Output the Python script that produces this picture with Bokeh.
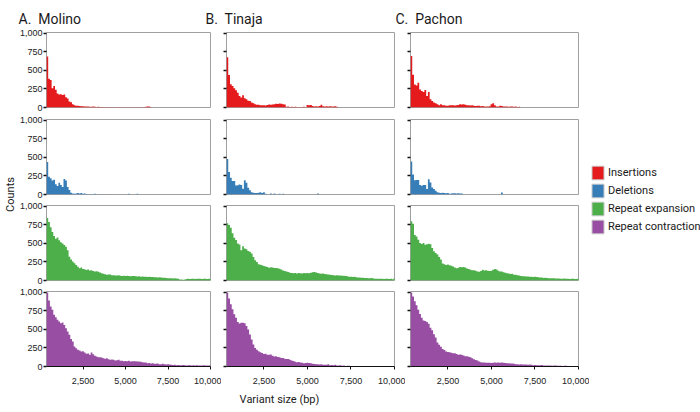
import math
from bokeh.plotting import figure
from bokeh.models import (Range1d, FixedTicker, NumeralTickFormatter, ColumnDataSource,
                          Legend, LegendItem, Label)
from bokeh.layouts import row, column
from bokeh.embed import file_html
from bokeh.resources import INLINE

# ---------------- data ----------------
BIN_START = 350
BIN_WIDTH = 100
N_BINS = 97
X_START, X_END = 350, 10000
Y_END = 1013

populations = ["Molino", "Tinaja", "Pachon"]
panel_titles = ["A.\u00a0 Molino", "B.\u00a0 Tinaja", "C.\u00a0 Pachon"]
variant_types = ["Insertions", "Deletions", "Repeat expansion", "Repeat contraction"]
type_colors = ["#E41A1C", "#377EB8", "#4DAF4A", "#984EA3"]
x_ticks = [2500, 5000, 7500, 10000]
y_ticks = [0, 250, 500, 750, 1000]

molino_insertions = [
    690, 390, 370, 260, 290, 240, 190, 175, 180, 170,
    175, 140, 120, 80, 70, 45, 30, 25, 22, 20,
    18, 16, 15, 12, 12, 10, 10, 12, 10, 8,
    10, 8, 6, 8, 5, 6, 4, 6, 5, 3,
    5, 4, 6, 3, 5, 4, 3, 5, 4, 3,
    4, 3, 3, 4, 5, 3, 4, 6, 10, 15,
    12, 4, 0, 0, 0, 0, 0, 0, 0, 0,
    0, 0, 0, 0, 0, 0, 0, 0, 0, 0,
    0, 0, 0, 0, 0, 0, 0, 0, 0, 0,
    0, 0, 0, 0, 0, 0, 0]
molino_deletions = [
    440, 240, 220, 190, 200, 140, 115, 160, 130, 100,
    210, 190, 100, 60, 25, 15, 10, 15, 20, 15,
    20, 10, 15, 8, 5, 3, 4, 2, 10, 3,
    2, 0, 2, 0, 3, 0, 0, 2, 0, 0,
    0, 0, 0, 0, 0, 0, 0, 0, 10, 0,
    0, 0, 0, 10, 0, 0, 0, 0, 0, 0,
    0, 0, 0, 0, 0, 0, 0, 0, 0, 0,
    0, 0, 0, 0, 0, 0, 0, 0, 0, 0,
    0, 0, 0, 0, 0, 0, 0, 0, 0, 0,
    0, 0, 0, 0, 0, 0, 0]
molino_rep_exp = [
    843, 790, 720, 655, 600, 565, 580, 545, 515, 500,
    478, 455, 410, 320, 285, 255, 232, 210, 187, 165,
    175, 156, 152, 143, 150, 134, 140, 130, 120, 125,
    118, 107, 98, 90, 85, 76, 82, 80, 72, 70,
    68, 66, 70, 64, 62, 65, 60, 63, 62, 58,
    60, 62, 58, 55, 57, 52, 55, 50, 52, 48,
    50, 48, 46, 45, 44, 42, 45, 40, 38, 36,
    35, 32, 30, 30, 28, 30, 26, 25, 15, 12,
    10, 14, 20, 22, 20, 24, 22, 20, 22, 24,
    22, 20, 22, 24, 20, 22, 20]
molino_rep_con = [
    1000, 890, 810, 765, 700, 665, 630, 608, 585, 595,
    560, 518, 472, 428, 370, 338, 270, 248, 225, 216,
    202, 205, 190, 171, 175, 158, 190, 166, 144, 135,
    126, 124, 121, 112, 103, 110, 99, 90, 95, 90,
    81, 86, 90, 76, 78, 72, 74, 72, 76, 67,
    70, 72, 70, 66, 68, 63, 58, 54, 55, 45,
    46, 42, 45, 36, 38, 40, 31, 32, 36, 30,
    27, 30, 28, 22, 20, 22, 18, 20, 16, 18,
    20, 17, 15, 18, 16, 14, 17, 15, 16, 14,
    15, 13, 16, 14, 12, 15, 13]

tinaja_insertions = [
    680, 440, 314, 290, 260, 233, 200, 157, 134, 165,
    125, 112, 90, 88, 67, 58, 45, 36, 36, 31,
    30, 30, 28, 35, 40, 38, 42, 45, 50, 48,
    54, 50, 45, 40, 10, 12, 8, 10, 6, 10,
    8, 5, 8, 6, 10, 4, 35, 30, 35, 20,
    15, 18, 15, 20, 36, 18, 15, 18, 12, 18,
    15, 12, 16, 10, 0, 0, 0, 0, 0, 0,
    0, 0, 0, 0, 0, 0, 0, 0, 0, 0,
    0, 0, 0, 0, 0, 0, 0, 0, 0, 0,
    0, 0, 0, 0, 0, 0, 0]
tinaja_deletions = [
    480, 305, 227, 182, 182, 123, 125, 136, 127, 77,
    191, 160, 91, 59, 32, 23, 20, 20, 22, 32,
    20, 30, 10, 0, 0, 14, 0, 12, 5, 0,
    10, 0, 10, 0, 0, 0, 0, 0, 0, 0,
    0, 0, 0, 0, 0, 0, 0, 0, 0, 0,
    0, 0, 14, 0, 0, 0, 0, 0, 0, 0,
    0, 0, 0, 0, 0, 0, 0, 0, 0, 0,
    0, 0, 0, 0, 0, 0, 0, 0, 0, 0,
    0, 0, 0, 0, 0, 0, 0, 0, 0, 0,
    0, 0, 0, 0, 0, 0, 0]
tinaja_rep_exp = [
    773, 750, 714, 637, 578, 546, 500, 487, 410, 464,
    432, 423, 400, 387, 364, 318, 273, 250, 218, 214,
    205, 196, 190, 182, 173, 178, 175, 168, 170, 165,
    160, 150, 136, 127, 123, 114, 105, 100, 98, 100,
    96, 102, 98, 95, 100, 97, 102, 98, 105, 110,
    114, 108, 100, 95, 91, 93, 88, 85, 80, 77,
    75, 72, 68, 70, 66, 68, 64, 65, 60, 58,
    52, 50, 48, 50, 45, 42, 40, 38, 36, 34,
    33, 32, 30, 33, 26, 24, 23, 25, 22, 23,
    20, 24, 22, 20, 23, 18, 32]
tinaja_rep_con = [
    1000, 920, 842, 773, 705, 660, 600, 582, 590, 592,
    585, 546, 500, 432, 364, 296, 250, 227, 205, 191,
    182, 168, 172, 160, 158, 162, 146, 136, 138, 127,
    125, 114, 116, 105, 100, 102, 91, 82, 73, 64,
    59, 60, 55, 52, 45, 46, 50, 48, 44, 36,
    34, 32, 30, 27, 30, 25, 23, 22, 32, 18,
    20, 18, 22, 14, 12, 16, 10, 14, 8, 10,
    9, 0, 0, 0, 0, 0, 0, 0, 0, 0,
    0, 0, 0, 0, 0, 0, 0, 0, 0, 0,
    0, 0, 0, 0, 0, 0, 0]

pachon_insertions = [
    697, 444, 311, 297, 333, 244, 222, 209, 235, 155,
    209, 111, 89, 67, 58, 44, 31, 44, 31, 30,
    22, 22, 31, 30, 32, 28, 31, 35, 44, 40,
    45, 38, 31, 30, 28, 32, 22, 20, 24, 22,
    18, 20, 13, 12, 14, 18, 44, 58, 31, 13,
    12, 22, 20, 13, 12, 14, 10, 13, 12, 10,
    12, 8, 10, 0, 0, 0, 0, 0, 0, 0,
    0, 0, 0, 0, 0, 0, 0, 0, 0, 0,
    0, 0, 0, 0, 0, 0, 0, 0, 0, 0,
    0, 0, 0, 0, 0, 0, 0]
pachon_deletions = [
    446, 271, 192, 197, 197, 127, 118, 127, 127, 74,
    205, 162, 96, 74, 52, 30, 22, 20, 22, 20,
    18, 20, 10, 15, 17, 18, 15, 17, 15, 15,
    0, 0, 0, 0, 0, 0, 0, 0, 0, 0,
    0, 0, 0, 0, 0, 0, 0, 0, 0, 0,
    0, 0, 26, 0, 0, 0, 0, 0, 0, 0,
    0, 0, 0, 0, 0, 0, 0, 0, 0, 0,
    0, 0, 0, 0, 0, 0, 0, 0, 0, 0,
    0, 0, 0, 0, 0, 0, 0, 0, 0, 0,
    0, 0, 0, 0, 0, 0, 0]
pachon_rep_exp = [
    800, 768, 615, 593, 549, 505, 492, 505, 483, 490,
    496, 488, 439, 395, 373, 351, 316, 285, 228, 220,
    211, 215, 206, 198, 189, 176, 167, 172, 184, 180,
    182, 176, 162, 154, 145, 140, 138, 132, 123, 118,
    130, 145, 135, 140, 132, 128, 132, 145, 154, 148,
    132, 123, 120, 110, 105, 97, 95, 88, 90, 79,
    78, 70, 66, 62, 57, 58, 55, 53, 52, 50,
    48, 49, 46, 44, 42, 40, 35, 36, 33, 31,
    32, 30, 31, 28, 26, 27, 25, 24, 26, 22,
    23, 21, 24, 22, 20, 21, 23]
pachon_rep_con = [
    1000, 945, 880, 826, 768, 710, 657, 622, 613, 600,
    577, 524, 488, 435, 391, 324, 293, 266, 235, 222,
    204, 195, 192, 186, 178, 180, 169, 160, 163, 158,
    147, 138, 140, 133, 124, 111, 98, 89, 80, 67,
    58, 55, 53, 52, 49, 50, 48, 52, 54, 50,
    53, 52, 54, 50, 48, 44, 45, 42, 40, 38,
    31, 29, 27, 30, 26, 28, 27, 25, 27, 24,
    18, 20, 17, 18, 16, 19, 15, 14, 13, 12,
    14, 11, 13, 12, 10, 9, 11, 8, 9, 10,
    7, 8, 6, 5, 6, 5, 4]

data_grid = [
    [molino_insertions, tinaja_insertions, pachon_insertions],
    [molino_deletions, tinaja_deletions, pachon_deletions],
    [molino_rep_exp, tinaja_rep_exp, pachon_rep_exp],
    [molino_rep_con, tinaja_rep_con, pachon_rep_con],
]
for rr in data_grid:
    for lst in rr:
        assert len(lst) == N_BINS, len(lst)

bin_edges = [BIN_START + BIN_WIDTH * i for i in range(N_BINS + 1)]

# ---------------- layout parameters ----------------
TICK_FONT = "Liberation Sans"
TEXT_FONT = "Roboto"
col_frame_w = [164, 168, 168]
col_border_left = [27, 5, 5]
col_border_right = 11
row_border_top = [4, 6, 6, 6]
row_border_bottom = [6, 5, 5, 24]
FRAME_H = 75
STRIP_W = 16
LEGEND_W = 111
GRID_H = sum(row_border_top) + sum(row_border_bottom) + 4 * FRAME_H
TOTAL_W = STRIP_W + sum(col_frame_w) + sum(col_border_left) + 3 * col_border_right + LEGEND_W
HEADER_H = 28
XLAB_H = 20


def blank_fig(w, h, xr, yr):
    f = figure(width=w, height=h, x_range=Range1d(*xr), y_range=Range1d(*yr),
               output_backend="svg", toolbar_location=None,
               x_axis_location=None, y_axis_location=None,
               min_border=0, min_border_left=0, min_border_right=0,
               min_border_top=0, min_border_bottom=0,
               outline_line_color=None)
    f.grid.visible = False
    return f


# header with panel titles
header = blank_fig(TOTAL_W, HEADER_H, (0, TOTAL_W), (0, HEADER_H))
title_x = [18, 205, 395]
for t, tx in zip(panel_titles, title_x):
    header.add_layout(Label(x=tx, y=HEADER_H - 18.5, text=t, text_font=TEXT_FONT,
                            text_font_size="14px", text_color="#1a1a1a",
                            text_baseline="alphabetic", text_align="left"))

# Counts strip
counts_fig = blank_fig(STRIP_W, GRID_H, (0, STRIP_W), (0, GRID_H))
counts_fig.add_layout(Label(x=9.5, y=GRID_H - (194 - HEADER_H), text="Counts", angle=math.pi / 2,
                            text_align="center", text_baseline="middle",
                            text_font=TEXT_FONT, text_font_size="11px", text_color="#1a1a1a"))

# panels
grid_rows = []
for r, vt in enumerate(variant_types):
    figs = []
    for c, pop in enumerate(populations):
        vals = data_grid[r][c]
        src = ColumnDataSource(dict(x=bin_edges, y=list(vals) + [vals[-1]]))
        p = figure(frame_width=col_frame_w[c], frame_height=FRAME_H,
                   x_range=Range1d(X_START, X_END), y_range=Range1d(0, Y_END),
                   output_backend="svg", toolbar_location=None,
                   x_axis_location="below" if r == 3 else None,
                   min_border_left=col_border_left[c], min_border_right=col_border_right,
                   min_border_top=row_border_top[r], min_border_bottom=row_border_bottom[r],
                   outline_line_color="#a0a0a0", outline_line_width=1)
        p.grid.visible = False
        p.varea_step(x="x", y1=0, y2="y", source=src, step_mode="after",
                     fill_color=type_colors[r])
        ya = p.yaxis[0]
        ya.ticker = FixedTicker(ticks=y_ticks)
        ya.axis_line_color = None
        ya.major_tick_out = 3
        ya.major_tick_in = 0
        ya.major_tick_line_color = "#111111"
        ya.major_tick_line_width = 1.5
        ya.minor_tick_line_color = None
        if c == 0:
            ya.formatter = NumeralTickFormatter(format="0,0")
            ya.major_label_standoff = 1
            ya.major_label_text_font = TICK_FONT
            ya.major_label_text_font_size = "9px"
            ya.major_label_text_color = "#222222"
        else:
            ya.major_label_overrides = {t: "" for t in y_ticks}
            ya.major_label_standoff = 0
        if r == 3:
            xa = p.xaxis[0]
            xa.ticker = FixedTicker(ticks=x_ticks)
            xa.formatter = NumeralTickFormatter(format="0,0")
            xa.axis_line_color = "#111111"
            xa.major_tick_out = 3
            xa.major_tick_in = 0
            xa.major_tick_line_color = "#111111"
            xa.minor_tick_line_color = None
            xa.major_label_standoff = 8
            xa.major_label_text_font = TICK_FONT
            xa.major_label_text_font_size = "9px"
            xa.major_label_text_color = "#222222"
        figs.append(p)
    grid_rows.append(row(*figs))
grid = column(*grid_rows)

# legend figure
legend_fig = blank_fig(LEGEND_W, GRID_H, (0, 1), (0, 1))
items = []
for vt, col in zip(variant_types, type_colors):
    rnd = legend_fig.quad(left=[5], right=[6], top=[6], bottom=[5], fill_color=col,
                          line_color="#c8c8c8", line_width=1)
    items.append(LegendItem(label=vt, renderers=[rnd]))
legend = Legend(items=items, location=(1, GRID_H - (235 - HEADER_H)), glyph_width=15,
                glyph_height=17, label_height=17, spacing=1, padding=0, margin=0,
                label_standoff=3, border_line_color=None, background_fill_alpha=0,
                label_text_font=TEXT_FONT, label_text_font_size="11px",
                label_text_color="#1a1a1a")
legend_fig.add_layout(legend, "center")

# x label strip
xlab = blank_fig(TOTAL_W, XLAB_H, (0, TOTAL_W), (0, XLAB_H))
xlab.add_layout(Label(x=279, y=XLAB_H - 9, text="Variant size (bp)", text_align="center",
                      text_baseline="middle", text_font=TEXT_FONT, text_font_size="11px",
                      text_color="#1a1a1a"))

layout = column(header, row(counts_fig, grid, legend_fig), xlab)

open("out.html", "w").write(file_html(layout, INLINE))
